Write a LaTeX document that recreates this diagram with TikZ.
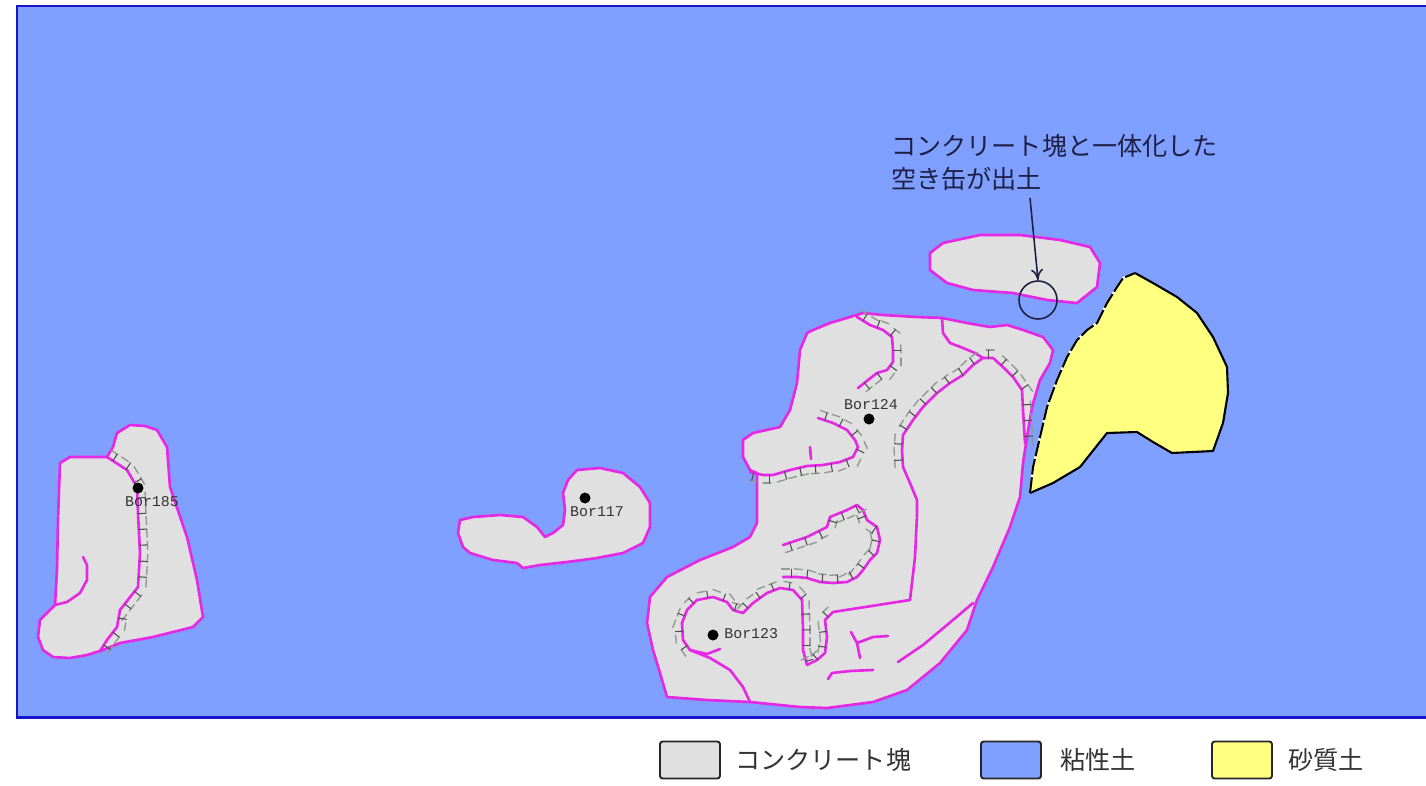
\documentclass[tikz,border=0pt]{standalone}
\usepackage{fontspec}
\newfontfamily\jpfont{Noto Sans CJK JP}
\setmonofont{Liberation Mono}
\usetikzlibrary{arrows.meta,decorations.markings,positioning}

\definecolor{clay}{RGB}{128,160,255}
\definecolor{clayedge}{RGB}{22,22,200}
\definecolor{conc}{RGB}{224,224,224}
\definecolor{concedge}{RGB}{228,40,228}
\definecolor{sand}{RGB}{255,255,128}
\definecolor{scarpgray}{RGB}{145,155,145}
\definecolor{notecol}{RGB}{30,30,70}

\tikzset{
	block/.style={fill=conc, draw=concedge, line width=1.5pt, line join=round},
	crack/.style={draw=concedge, line width=1.5pt, line join=round, line cap=round},
	scarp/.style={crack,
		postaction={decorate, decoration={markings,
			mark=between positions 0 and 1 step 7pt with {\draw[scarpgray, line width=0.8pt] (0,#1) -- (4.5pt,#1);}}},
		postaction={decorate, decoration={markings,
			mark=between positions 4pt and -2pt step 9pt with {\draw[black!70, line width=0.6pt] (0,0) -- (0,#1);}}}},
	bor/.style={circle, fill=black, inner sep=0pt, minimum size=0.22cm},
	borlabel/.style={font=\ttfamily\fontsize{8.5}{9}\selectfont, text=black!80, inner sep=0pt},
	legbox/.style={draw=black!85, line width=1.1pt, rounded corners=1.5pt, minimum width=1.2cm, minimum height=0.74cm, inner sep=0pt},
	legtext/.style={font=\jpfont\fontsize{14.3}{17}\selectfont, text=black!80, inner sep=0pt, anchor=west},
}

\begin{document}
\begin{tikzpicture}[x=0.02cm, y=-0.02cm, >={To[length=2.2mm,width=2.4mm]}]
	\useasboundingbox (0,0) rectangle (1426,785);
	\begin{scope}
		\clip (0,0) rectangle (1426,785);
		\fill[clay] (17,6) rectangle (1445,717);
		\draw[clayedge, line width=1.7pt] (17,6) rectangle (1445,717);
	\end{scope}

	% concrete blocks
	\draw[block] (60,463) -- (70,457) -- (107,457) -- (113,447) -- (117,433) -- (130,425) -- (145,426) -- (157,430) -- (167,447) -- (170,487) -- (187,537) -- (197,580) -- (203,617) -- (193,627) -- (153,637) -- (120,643) -- (103,650) -- (87,655) -- (70,658) -- (53,657) -- (43,650) -- (38,637) -- (40,620) -- (55,605) -- (57,570) -- (58,520) -- cycle;
	\draw[block] (460,520) -- (473,517) -- (500,515) -- (523,517) -- (537,527) -- (545,537) -- (553,533) -- (563,525) -- (565,510) -- (563,493) -- (568,480) -- (577,470) -- (600,468) -- (623,473) -- (640,487) -- (650,503) -- (650,527) -- (643,543) -- (623,553) -- (597,558) -- (567,562) -- (540,565) -- (523,568) -- (517,563) -- (493,560) -- (470,553) -- (463,547) -- (458,533) -- cycle;
	\draw[block] (930,253) -- (943,243) -- (980,235) -- (1020,235) -- (1060,240) -- (1090,247) -- (1100,263) -- (1097,287) -- (1077,303) -- (1047,300) -- (1013,293) -- (973,290) -- (947,283) -- (930,270) -- cycle;
	\draw[block] (813,330) -- (830,323) -- (850,317) -- (863,313) -- (883,315) -- (917,317) -- (942,318) -- (967,323) -- (990,327) -- (1007,325) -- (1023,330) -- (1043,337) -- (1053,350) -- (1050,363) -- (1040,380) -- (1032,407) -- (1027,437) -- (1023,463) -- (1020,497) -- (1010,527) -- (993,567) -- (977,600) -- (967,630) -- (940,663) -- (907,690) -- (873,702) -- (827,708) -- (800,707) -- (750,702) -- (707,700) -- (667,697) -- (660,673) -- (653,650) -- (647,623) -- (650,597) -- (667,577) -- (700,560) -- (733,547) -- (750,537) -- (757,523) -- (757,490) -- (757,473) -- (750,470) -- (743,457) -- (743,440) -- (753,433) -- (780,427) -- (790,410) -- (797,383) -- (800,350) -- (807,333) -- cycle;

	% cracks and scarps
	\draw[scarp=4.5pt] (107,457) -- (127,470) -- (137,487) -- (138,513) -- (140,553) -- (138,587) -- (120,610) -- (117,627) -- (107,640) -- (100,651);
	\draw[crack] (83,557) -- (87,565) -- (87,580) -- (80,593) -- (67,602) -- (55,605);

	\draw[scarp=4.5pt] (857,317) -- (870,325) -- (883,330) -- (892,337) -- (893,350) -- (893,362) -- (887,370) -- (877,373) -- (868,380) -- (858,388);
	\draw[scarp=4.5pt] (818,418) -- (833,423) -- (847,430) -- (855,440) -- (858,447) -- (853,457) -- (840,462) -- (823,465) -- (807,466) -- (790,470) -- (773,475) -- (763,475) -- (750,472);
	\draw[crack] (810,447) -- (811,459);
	\draw[crack] (942,318) -- (943,333) -- (950,343) -- (963,348) -- (975,353) -- (983,358);
	\draw[scarp=4.5pt] (903,467) -- (902,450) -- (903,435) -- (913,420) -- (923,407) -- (937,393) -- (950,383) -- (963,375) -- (973,365) -- (983,358) -- (993,358) -- (1003,367) -- (1013,377) -- (1022,390) -- (1023,410) -- (1025,443);
	\draw[crack] (903,467) -- (910,483) -- (917,500) -- (917,515) -- (915,557) -- (910,600) -- (833,612);
	\draw[scarp=-4pt] (833,612) -- (825,620) -- (827,637) -- (825,653) -- (817,660) -- (807,665) -- (803,650) -- (803,630) -- (802,600) -- (793,590) -- (780,588) -- (767,593) -- (753,603) -- (743,613) -- (733,610) -- (727,602) -- (713,597) -- (697,600) -- (687,610) -- (682,623) -- (683,640) -- (690,650);
	\draw[crack] (690,650) -- (707,654) -- (720,649);
	\draw[crack] (690,650) -- (710,658) -- (730,670) -- (743,687) -- (750,702);
	\draw[scarp=-4.5pt] (783,545) -- (807,537) -- (827,527) -- (830,517) -- (847,510) -- (857,505) -- (863,510) -- (867,520) -- (877,527) -- (880,540) -- (877,553) -- (870,560) -- (863,570) -- (857,577) -- (847,582) -- (833,583) -- (820,582) -- (807,578) -- (797,577) -- (783,577);
	\draw[crack] (851,632) -- (857,643) -- (860,658);
	\draw[crack] (857,643) -- (873,637) -- (888,636);
	\draw[crack] (828,679) -- (832,673) -- (850,671) -- (873,670);
	\draw[crack] (898,662) -- (923,645) -- (947,625) -- (973,603);

	% sandy soil
	\fill[sand] (1135,273) -- (1153,283) -- (1177,297) -- (1197,313) -- (1213,337) -- (1227,367) -- (1228,393) -- (1223,423) -- (1213,451) -- (1172,453) -- (1153,442) -- (1137,432) -- (1107,433) -- (1080,467) -- (1053,483) -- (1030,493) -- (1033,467) -- (1040,437) -- (1047,407) -- (1057,380) -- (1067,357) -- (1077,340) -- (1087,330) -- (1097,323) -- (1107,303) -- (1117,287) -- (1123,278) -- cycle;
	\draw[line width=1.2pt, line join=round] (1135,273) -- (1153,283) -- (1177,297) -- (1197,313) -- (1213,337) -- (1227,367) -- (1228,393) -- (1223,423) -- (1213,451) -- (1172,453) -- (1153,442) -- (1137,432) -- (1107,433) -- (1080,467) -- (1053,483) -- (1030,493);
	\draw[white, line width=1.2pt] (1030,493) -- (1033,467) -- (1040,437) -- (1047,407) -- (1057,380) -- (1067,357) -- (1077,340) -- (1087,330) -- (1097,323) -- (1107,303) -- (1117,287) -- (1123,278) -- (1135,273);
	\draw[line width=1.2pt, dash pattern=on 9pt off 1.6pt] (1030,493) -- (1033,467) -- (1040,437) -- (1047,407) -- (1057,380) -- (1067,357) -- (1077,340) -- (1087,330) -- (1097,323) -- (1107,303) -- (1117,287) -- (1123,278) -- (1135,273);

	% borings
	\node[bor] (b185) at (138,488) {};
	\node[borlabel] (l185) at (152,502) {Bor185};
	\node[bor] (b117) at (585,498) {};
	\node[borlabel] (l117) at (597,512) {Bor117};
	\node[bor] (b124) at (869,419) {};
	\node[borlabel] (l124) at (871,405) {Bor124};
	\node[bor] (b123) at (713,635) {};
	\node[borlabel, anchor=west] (l123) at (724,634) {Bor123};

	% find of the can
	\node[font=\jpfont\fontsize{14.3}{18.7}\selectfont, text=notecol, align=left, anchor=north west, inner sep=0pt] (note) at (891,134) {コンクリート塊と一体化した\\空き缶が出土};
	\node[draw=notecol, line width=0.9pt, circle, minimum size=0.76cm, inner sep=0pt] (can) at (1038,300) {};
	\coordinate (tail) at (1030,198);
	\draw[->, notecol, line width=0.9pt] (tail) -- (can.north);

	% legend
	\node[legbox, fill=conc] (lgconc) at (690,760) {};
	\node[legtext, right=0.28cm of lgconc] (tconc) {コンクリート塊};
	\node[legbox, fill=clay] (lgclay) at (1011,760) {};
	\node[legtext, right=0.36cm of lgclay] (tclay) {粘性土};
	\node[legbox, fill=sand] (lgsand) at (1242,760) {};
	\node[legtext, right=0.3cm of lgsand] (tsand) {砂質土};
\end{tikzpicture}
\end{document}
